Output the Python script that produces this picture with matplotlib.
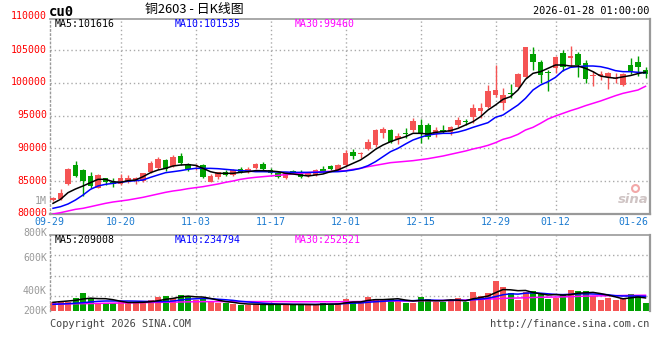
import matplotlib
matplotlib.use('Agg')
import matplotlib.pyplot as plt
import matplotlib.transforms as mtransforms
import numpy as np

# ---------------- data ----------------
date_ticks = ['09-29', '10-20', '11-03', '11-17', '12-01', '12-15', '12-29', '01-12', '01-26']
date_tick_idx = [0, 9, 19, 29, 39, 49, 59, 67, 77]
grid_idx = [9, 19, 29, 39, 49, 59, 67]

opens = [82100, 82250, 84540, 87440, 86680, 85760, 83980, 85410, 84800, 84590,
         85050, 85150, 85050, 86430, 86930, 88210, 87290, 88870, 87600, 87290,
         87440, 84900, 85560, 86370, 85920, 86780, 86370, 86934, 87595, 86680,
         86270, 85510, 86525, 86070, 85760, 85920, 86830, 87290, 86680, 87443,
         89478, 89122, 89885, 90496, 92379, 92786, 91361, 92277, 92786, 93549,
         93549, 92124, 92786, 92532, 93499, 94110, 94822, 95738, 96349, 98130,
         96858, 98486, 99402, 100827, 104390, 103219, 101692, 102201, 104491, 103728,
         104390, 102965, 101031, 101031, 100929, 100522, 99657, 102710, 103219, 101947]
highs = [82600, 83850, 86950, 88050, 86830, 86370, 86120, 85510, 85410, 86120,
         85970, 85560, 86270, 88100, 88720, 88360, 89020, 89220, 87800, 87540,
         87600, 86000, 86420, 86700, 86830, 87100, 87100, 87800, 87950, 86950,
         86420, 86300, 86680, 86680, 86420, 86800, 87290, 87400, 87600, 89730,
         89886, 89428, 91412, 92888, 93193, 92888, 92277, 93040, 94567, 94415,
         93804, 93193, 93549, 93397, 94720, 94415, 96706, 96858, 99657, 102710,
         99148, 99810, 101438, 105509, 105509, 103474, 101947, 104085, 105000, 105662,
         104644, 103474, 101845, 101845, 101692, 101438, 101438, 103728, 104136, 102354]
lows = [81900, 82150, 84450, 85660, 82760, 83880, 83880, 84390, 84140, 84390,
        84750, 84490, 84900, 86270, 86830, 86580, 87190, 87440, 86580, 86680,
        85500, 84800, 85300, 85700, 85760, 86200, 86200, 86780, 86580, 86100,
        85400, 85350, 86170, 85400, 85660, 85800, 86420, 86700, 86580, 87300,
        88308, 88460, 89733, 90242, 91616, 90852, 90598, 91514, 92532, 90750,
        91361, 91768, 92380, 92023, 93295, 93550, 93804, 94567, 96196, 97875,
        95840, 97621, 99148, 100675, 102000, 99911, 98792, 101438, 101845, 102456,
        100929, 99911, 99504, 100420, 99046, 99911, 99504, 101285, 101082, 100675]
closes = [82450, 83220, 86830, 85810, 85000, 84240, 85970, 84850, 84540, 85410,
          85460, 85410, 86170, 87800, 88360, 86780, 88720, 87800, 86780, 87440,
          85660, 85810, 86320, 85970, 86680, 86420, 86880, 87595, 86830, 86270,
          85560, 86170, 86270, 85560, 86270, 86680, 86525, 86830, 87443, 89224,
          88868, 89326, 91005, 92786, 92938, 91005, 91870, 92175, 94160, 92277,
          91768, 92786, 92532, 93194, 94313, 94060, 96095, 96095, 98741, 98894,
          98130, 98232, 101336, 105407, 103219, 101184, 101438, 103983, 102456, 104136,
          102710, 100573, 101235, 101285, 101438, 100675, 101336, 101591, 102354, 101336]

ma5 = [81590, 82200, 83220, 83780, 84240, 84750, 85255, 85255, 84900, 84800,
       85050, 85150, 85660, 86270, 86680, 86930, 87290, 87440, 87500, 87390,
       86930, 86420, 86170, 86170, 86170, 86320, 86420, 86578, 86578, 86527,
       86425, 86170, 86070, 85917, 85764, 85917, 86070, 86425, 86680, 87190,
       87700, 88210, 88970, 89835, 90496, 91005, 91412, 91768, 92277, 92277,
       92175, 92430, 92532, 92685, 93040, 93550, 94060, 94822, 95840, 96604,
       97468, 97875, 98894, 100522, 101438, 101692, 102201, 102710, 102710, 102557,
       102557, 102201, 101692, 101031, 100827, 100700, 100900, 101100, 101400, 101616]
ma10 = [80830, 81080, 81490, 82100, 82860, 83730, 84240, 84490, 84640, 84800,
        84950, 85050, 85150, 85560, 85920, 86270, 86420, 86580, 86780, 86930,
        86930, 86930, 86880, 86780, 86680, 86580, 86530, 86425, 86425, 86400,
        86370, 86370, 86320, 86320, 86320, 86320, 86370, 86400, 86425, 86527,
        86680, 86934, 87340, 87951, 88714, 89478, 89987, 90648, 91260, 91666,
        92023, 92175, 92277, 92278, 92481, 92787, 93194, 93550, 93906, 94720,
        95077, 95840, 96604, 97621, 98894, 99657, 100166, 100827, 101845, 102354,
        102456, 102557, 102557, 102456, 102201, 101845, 101692, 101692, 101590, 101535]
ma30 = [79960, 80166, 80420, 80675, 80830, 81080, 81336, 81590, 81795, 81947,
        82100, 82303, 82507, 82761, 83016, 83270, 83474, 83626, 83830, 83983,
        84135, 84338, 84542, 84797, 85000, 85255, 85430, 85560, 85662, 85764,
        85865, 85967, 86069, 86170, 86272, 86374, 86425, 86476, 86527, 86578,
        86781, 86934, 87188, 87392, 87595, 87799, 87900, 88002, 88104, 88257,
        88410, 88613, 88816, 89072, 89326, 89580, 89886, 90140, 90445, 90852,
        91361, 91666, 92125, 92787, 93194, 93804, 94466, 94924, 95331, 95738,
        96095, 96502, 96858, 97214, 97621, 98028, 98384, 98639, 98894, 99460]

# volume in thousands
volume = [149, 160, 139, 213, 293, 213, 133, 133, 133, 149,
          133, 133, 149, 176, 229, 245, 213, 256, 245, 176,
          187, 139, 123, 133, 112, 96, 96, 112, 112, 107,
          107, 96, 96, 117, 96, 96, 128, 112, 123, 192,
          160, 139, 229, 192, 192, 192, 176, 123, 123, 229,
          192, 149, 139, 176, 213, 139, 309, 245, 288, 485,
          389, 288, 176, 309, 320, 283, 192, 213, 267, 336,
          320, 320, 245, 176, 213, 176, 213, 272, 245, 133]
vma5 = [139, 150, 160, 171, 192, 205, 198, 197, 181, 156,
        136, 136, 139, 148, 164, 186, 202, 224, 238, 227,
        223, 201, 174, 152, 139, 121, 112, 110, 106, 105,
        107, 107, 104, 105, 104, 102, 107, 110, 111, 130,
        143, 145, 169, 182, 182, 189, 196, 175, 161, 169,
        169, 163, 166, 177, 174, 163, 195, 216, 239, 293,
        343, 339, 325, 329, 296, 275, 256, 263, 255, 262,
        286, 291, 298, 279, 255, 226, 195, 210, 224, 209]
vma10 = [107, 112, 117, 125, 133, 145, 155, 160, 160, 160,
         160, 158, 155, 152, 150, 150, 160, 175, 190, 195,
         201, 197, 188, 180, 170, 155, 145, 135, 125, 118,
         112, 110, 108, 107, 106, 106, 107, 110, 112, 120,
         126, 128, 140, 148, 155, 165, 170, 165, 165, 172,
         175, 172, 168, 170, 172, 168, 182, 190, 205, 230,
         260, 275, 270, 285, 290, 285, 275, 265, 262, 268,
         272, 275, 272, 268, 260, 245, 240, 240, 240, 235]
vma30 = [110, 112, 114, 116, 118, 120, 122, 124, 126, 128,
         130, 132, 134, 136, 138, 140, 142, 144, 146, 148,
         150, 150, 150, 150, 150, 150, 150, 150, 150, 150,
         150, 150, 148, 148, 148, 148, 148, 148, 148, 150,
         150, 152, 154, 156, 158, 160, 160, 160, 162, 164,
         166, 166, 168, 170, 172, 175, 180, 185, 190, 196,
         202, 206, 208, 212, 216, 220, 222, 224, 226, 230,
         234, 238, 240, 242, 244, 246, 248, 250, 251, 252.5]

# ---------------- styling ----------------
RED = '#f55454'
GREEN = '#00a000'
GRID = '#aaaaaa'
BORDER = '#999999'
MONO = 'DejaVu Sans Mono'
FS = 7.1
W, H = 660, 360

fig = plt.figure(figsize=(W / 100, H / 100), dpi=100)
fig.patch.set_facecolor('white')


def rect(x0, y0, x1, y1):
    return [x0 / W, 1 - y1 / H, (x1 - x0) / W, (y1 - y0) / H]


def shift(dx_px, dy_px):
    return mtransforms.ScaledTranslation(dx_px / 100, dy_px / 100, fig.dpi_scale_trans)


ax = fig.add_axes(rect(50, 19, 650, 214))
axv = fig.add_axes(rect(50, 235, 650, 311))

x = np.arange(len(closes))
O = np.array(opens, float)
C = np.array(closes, float)
Hh = np.array(highs, float)
L = np.array(lows, float)
up = C >= O
cols = np.where(up, RED, GREEN)

for a in (ax, axv):
    a.set_xlim(-0.4, 79.6)
    for g in grid_idx:
        a.axvline(g, color=GRID, lw=1, ls=(0, (1, 2)), zorder=0)
    a.spines['left'].set_linestyle((0, (1, 2)))
    for s in a.spines.values():
        s.set_color(BORDER)
        s.set_linewidth(1.2)
    a.spines['left'].set_linewidth(1)
    a.spines['right'].set_linewidth(1.6)
    a.spines['bottom'].set_linewidth(1.6)
    a.tick_params(length=0)
axv.spines['bottom'].set_visible(False)

# main price panel
ax.set_ylim(79962, 109733)
for v in [85000, 90000, 95000, 100000, 105000]:
    ax.axhline(v, color=GRID, lw=1, ls=(0, (1, 2)), zorder=0)
ax.vlines(x, L, Hh, colors=cols, lw=1, zorder=2)
body = np.maximum(np.abs(C - O), 130)
ax.bar(x, body, bottom=np.minimum(O, C), width=0.7, color=cols, linewidth=0, zorder=3)
ax.plot(x, ma30, color='#ff00ff', lw=1.1, zorder=4)
ax.plot(x, ma10, color='#0000ff', lw=1.1, zorder=4)
ax.plot(x, ma5, color='black', lw=1.1, zorder=5)

yt = [80000, 85000, 90000, 95000, 100000, 105000]
ax.set_yticks(yt)
ax.set_yticklabels([str(v) for v in yt], color='#ff0000', family=MONO, fontsize=FS)
ax.tick_params(axis='y', pad=2)
for lab in ax.get_yticklabels():
    lab.set_transform(lab.get_transform() + shift(0, 1.5))
tr = mtransforms.blended_transform_factory(ax.transAxes, ax.transData)
ax.text(-0.005, 110000, '110000', transform=tr + shift(0, 1.5), ha='right', va='center',
        color='#ff0000', family=MONO, fontsize=FS, clip_on=False)

ax.set_xticks(date_tick_idx)
ax.set_xticklabels(date_ticks, color='#1a7ad0', family=MONO, fontsize=FS)
ax.tick_params(axis='x', pad=2.5)
xl = ax.get_xticklabels()
xl[0].set_transform(xl[0].get_transform() + shift(-4, 0))
xl[-1].set_transform(xl[-1].get_transform() + shift(3, 0))

ax.text(0.007, 0.974, 'MA5:101616', transform=ax.transAxes, ha='left', va='center',
        color='black', family=MONO, fontsize=FS)
ax.text(0.207, 0.974, 'MA10:101535', transform=ax.transAxes, ha='left', va='center',
        color='#0000ff', family=MONO, fontsize=FS)
ax.text(0.408, 0.974, 'MA30:99460', transform=ax.transAxes, ha='left', va='center',
        color='#ff00ff', family=MONO, fontsize=FS)

# sina watermark
ax.text(0.997, 0.075, 'sina', transform=ax.transAxes, ha='right', va='center',
        color='#cfc4c4', fontsize=9.5, fontweight='bold', style='italic')
ax.plot([0.975], [0.135], transform=ax.transAxes, marker='o', ms=5, mfc='none',
        mec='#f2a8a8', mew=1.5, clip_on=False)

# volume panel
V = np.array(volume, float)
axv.set_ylim(0, 1216)
for v in [245, 565, 896]:
    axv.axhline(v, color=GRID, lw=1, ls=(0, (1, 2)), zorder=0)
axv.bar(x, V, width=0.8, color=cols, linewidth=0, zorder=2)
axv.plot(x, vma30, color='#ff00ff', lw=1.1, zorder=3)
axv.plot(x, vma10, color='#0000ff', lw=1.1, zorder=3)
axv.plot(x, vma5, color='black', lw=1.1, zorder=4)
axv.set_xticks([])
axv.set_yticks([])
trv = mtransforms.blended_transform_factory(axv.transAxes, axv.transData)
for lab, yv in [('1M', 1760), ('800K', 1250), ('600K', 848), ('400K', 325), ('200K', 0)]:
    axv.text(-0.005, yv, lab, transform=trv, ha='right', va='center',
             color='#999999', family=MONO, fontsize=FS, clip_on=False)

axv.text(0.007, 0.94, 'MA5:209008', transform=axv.transAxes, ha='left', va='center',
         color='black', family=MONO, fontsize=FS)
axv.text(0.207, 0.94, 'MA10:234794', transform=axv.transAxes, ha='left', va='center',
         color='#0000ff', family=MONO, fontsize=FS)
axv.text(0.408, 0.94, 'MA30:252521', transform=axv.transAxes, ha='left', va='center',
         color='#ff00ff', family=MONO, fontsize=FS)

# header / footer texts
fig.text(49 / W, 1 - 12 / H, 'cu0', ha='left', va='center', family=MONO,
         fontsize=10, fontweight='bold', color='black')
fig.text(194 / W, 1 - 10 / H, '铜2603 - 日K线图', ha='center', va='center',
         family=['Noto Sans CJK SC', 'DejaVu Sans'], fontsize=9.3, color='black')
fig.text(649 / W, 1 - 11.5 / H, '2026-01-28 01:00:00', ha='right', va='center',
         family=MONO, fontsize=FS + 0.3, color='black')
fig.text(50 / W, 1 - 324 / H, 'Copyright 2026 SINA.COM', ha='left', va='center',
         family=MONO, fontsize=FS + 0.3, color='#444444')
fig.text(649 / W, 1 - 324 / H, 'http://finance.sina.com.cn', ha='right', va='center',
         family=MONO, fontsize=FS + 0.3, color='#444444')

fig.savefig('out.png', dpi=100, facecolor='white')
